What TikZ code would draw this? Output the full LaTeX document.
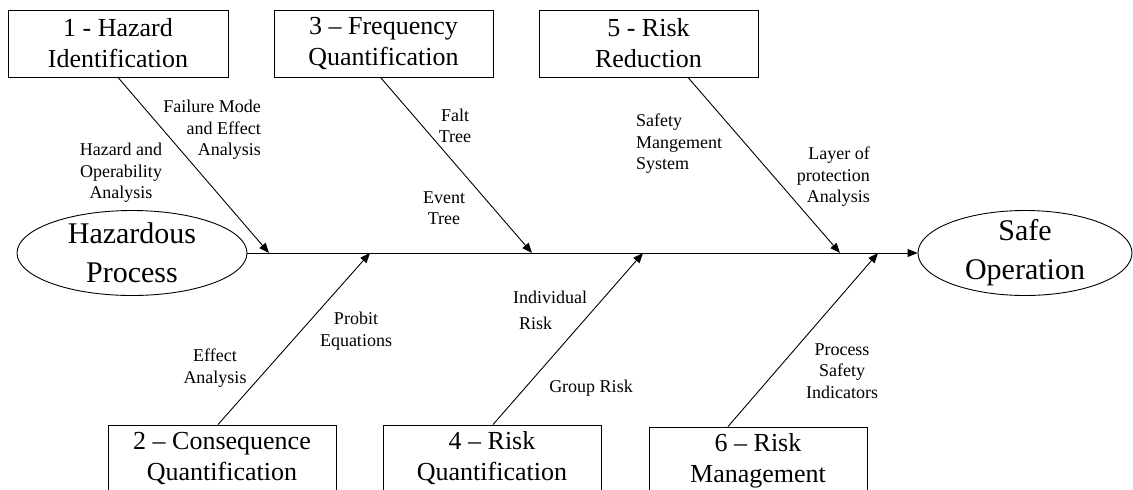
\documentclass[tikz,border=0pt]{standalone}
\usepackage{fontspec}
\setmainfont{Liberation Serif}
\usetikzlibrary{arrows.meta,shapes.geometric}

\tikzset{
  stagebox/.style={draw, line width=0.9pt, rectangle, inner sep=0pt,
    minimum height=67pt, align=center,
    font=\fontsize{26}{31}\selectfont},
  endpoint/.style={draw, line width=0.9pt, ellipse, inner sep=0pt,
    minimum width=230pt, minimum height=85pt},
  endtext/.style={inner sep=0pt, align=center,
    font=\fontsize{30}{39}\selectfont},
  bone/.style={line width=0.9pt, -{Triangle[length=10pt,width=8pt]}},
  note/.style={inner sep=0pt, font=\fontsize{18}{21.5}\selectfont}
}

\begin{document}
\begin{tikzpicture}[x=1pt, y=-1pt]
  \useasboundingbox (0,0) rectangle (1133,490);
  \clip (0,0) rectangle (1133,490);

  % start and goal of the chain
  \node[endpoint] (hp) at (132,253) {};
  \node[endtext] (hptext) at (hp.center) {Hazardous\\Process};
  \node[endpoint, minimum width=214pt] (so) at (1025,253) {};
  \node[endtext] (sotext) at (so.center) {Safe\\Operation};

  % the spine
  \draw[bone] (hp.east) -- (so.west);

  % points where the branches meet the spine
  \coordinate (s1) at (269,253);
  \coordinate (s2) at (370,253);
  \coordinate (s3) at (532,253);
  \coordinate (s4) at (643,253);
  \coordinate (s5) at (840,253);
  \coordinate (s6) at (878,253);

  % the six stages
  \node[stagebox, minimum width=220pt] (b1) at (118,43.5) {1 - Hazard\\Identification};
  \node[stagebox, minimum width=219pt] (b3) at (383.5,43.5) {3 -- Frequency\\Quantification};
  \node[stagebox, minimum width=219pt] (b5) at (648.5,43.5) {5 - Risk\\Reduction};
  \node[stagebox, minimum width=228pt] (b2) at (222,458.5) {2 -- Consequence\\Quantification};
  \node[stagebox, minimum width=218pt] (b4) at (492,458.5) {4 -- Risk\\Quantification};
  \node[stagebox, minimum width=218pt] (b6) at (758,460.5) {6 -- Risk\\Management};

  % branches
  \draw[bone] (b1.south) -- (s1);
  \draw[bone] ([xshift=-3pt]b3.south) -- (s3);
  \draw[bone] ([xshift=39.5pt]b5.south) -- (s5);
  \draw[bone] ([xshift=-4pt]b2.north) -- (s2);
  \draw[bone] ([xshift=1pt]b4.north) -- (s4);
  \draw[bone] ([xshift=-30pt]b6.north) -- (s6);

  % methods along the branches
  \node[note, align=right, anchor=east] (fmea) at (261,130) {Failure Mode\\and Effect\\Analysis};
  \node[note, align=center] (hazop) at (121,173) {Hazard and\\Operability\\Analysis};
  \node[note, align=center] (falt) at (455,126) {Falt\\Tree};
  \node[note, align=center] (event) at (444,208) {Event\\Tree};
  \node[note, align=left, anchor=west] (sms) at (636,144) {Safety\\Mangement\\System};
  \node[note, align=right, anchor=east] (lopa) at (870,177) {Layer of\\protection\\Analysis};
  \node[note, align=center] (probit) at (356,331) {Probit\\Equations};
  \node[note, align=center] (effect) at (215,368) {Effect\\Analysis};
  \node[note, align=left, anchor=west] (indiv) at (513,310) {Individual\\[4.5pt]\hspace*{6pt}Risk};
  \node[note] (group) at (591,388) {Group Risk};
  \node[note, align=center] (psi) at (842,371) {Process\\Safety\\Indicators};
\end{tikzpicture}
\end{document}
